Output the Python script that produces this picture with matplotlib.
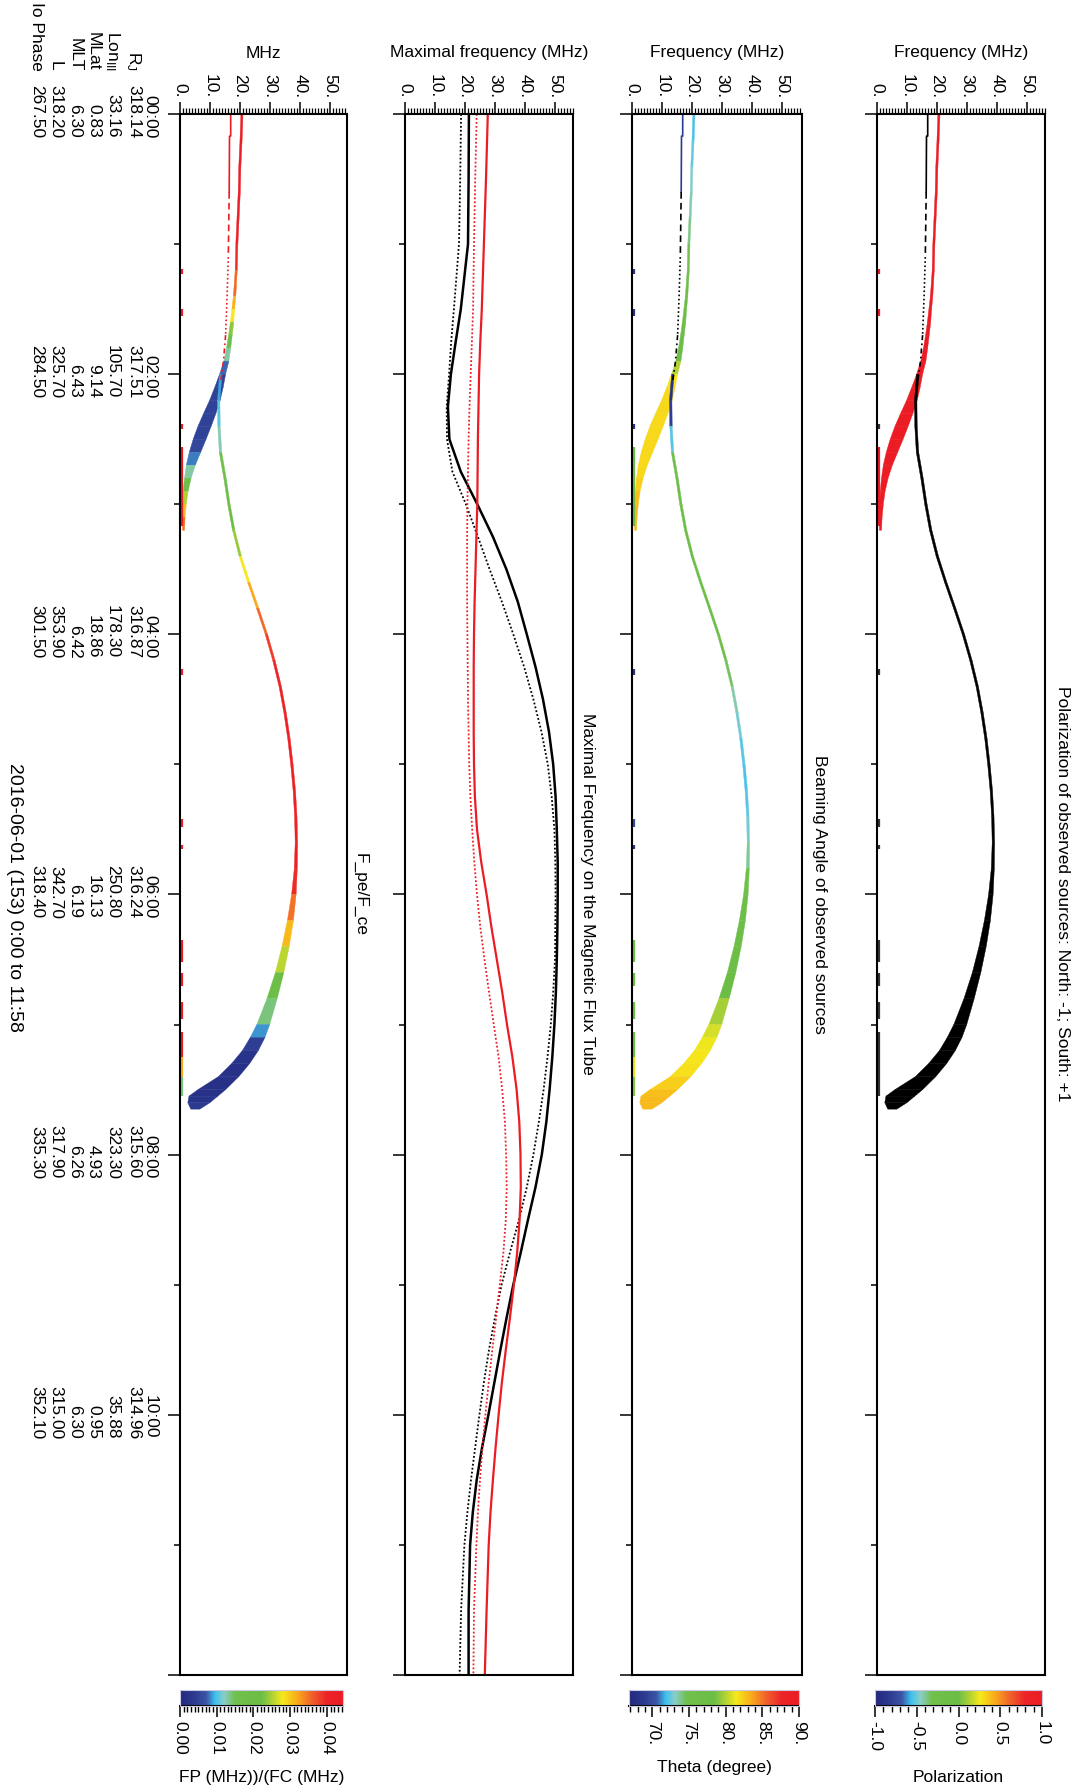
import numpy as np
import matplotlib
matplotlib.use("Agg")
import matplotlib.pyplot as plt
from matplotlib.colors import LinearSegmentedColormap, Normalize
from matplotlib.collections import PolyCollection
from matplotlib.cm import ScalarMappable
import matplotlib.transforms as mtransforms

# ------------------------------------------------------------------ data
# Observed sources, southern branch (time h, freq range MHz, colour values)
t_s = [0.0, 0.2, 0.4, 0.6, 0.8, 1.0, 1.2, 1.4, 1.5, 1.6, 1.7, 1.8, 1.9, 2.0,
       2.1, 2.2, 2.3, 2.4, 2.5, 2.6, 2.7, 2.8, 2.9, 3.0, 3.1, 3.2]
fmin_s = [20.3, 20.0, 19.6, 19.4, 19.0, 18.6, 18.4, 17.8, 17.3, 16.8, 16.2, 15.5, 14.6, 13.2,
          11.6, 9.9, 7.9, 6.0, 4.4, 3.1, 2.1, 1.5, 1.1, 0.9, 0.8, 0.8]
fmax_s = [21.0, 20.7, 20.3, 20.1, 19.7, 19.3, 19.1, 18.6, 18.2, 17.9, 17.4, 16.9, 16.3, 15.2,
          14.4, 13.4, 12.0, 10.4, 8.7, 6.9, 5.1, 3.7, 2.7, 2.1, 1.7, 1.5]
fpfc_s = [0.044, 0.044, 0.044, 0.044, 0.044, 0.041, 0.038, 0.033, 0.030, 0.026, 0.021, 0.016, 0.010, 0.005,
          0.005, 0.005, 0.005, 0.005, 0.005, 0.006, 0.010, 0.016, 0.022, 0.028, 0.033, 0.037]
theta_s = [71.8, 72.2, 72.8, 73.2, 73.6, 74.2, 75.5, 76.5, 77, 77, 77.5, 77.5, 79, 81,
           82, 82, 82, 82, 82, 82, 82, 82, 82.5, 83, 83, 83]
pol_s = [1] * 26

# Observed sources, northern branch
t_n = [2.0, 2.2, 2.4, 2.6, 2.8, 3.0, 3.2, 3.4, 3.6, 3.8, 4.0, 4.2, 4.4, 4.6, 4.8, 5.0, 5.2, 5.4,
       5.6, 5.8, 6.0, 6.2, 6.4, 6.6, 6.8, 7.0, 7.1, 7.2, 7.3, 7.4, 7.5, 7.55, 7.6, 7.65]
fmin_n = [13.2, 12.5, 12.6, 13.1, 14.6, 15.9, 17.5, 19.7, 22.5, 25.5, 28.4, 30.9, 33.0, 34.6, 35.9, 36.9,
          37.7, 38.2, 38.4, 38.1, 37.2, 35.8, 34.0, 31.8, 29.0, 25.6, 23.4, 20.8, 17.2, 12.8, 6.0, 3.0, 2.6, 3.6]
fmax_n = [14.0, 13.3, 13.4, 13.9, 15.4, 16.7, 18.3, 20.5, 23.3, 26.3, 29.2, 31.7, 33.8, 35.4, 36.7, 37.7,
          38.5, 39.0, 39.2, 39.1, 38.7, 37.8, 36.4, 34.6, 32.4, 29.9, 28.3, 26.1, 23.2, 19.6, 15.2, 12.6, 10.0, 6.6]
fpfc_n = [0.008, 0.010, 0.011, 0.014, 0.019, 0.020, 0.022, 0.026, 0.030, 0.034, 0.037, 0.040, 0.042, 0.043,
          0.043, 0.043, 0.043, 0.043, 0.043, 0.042, 0.037, 0.033, 0.029, 0.022, 0.017, 0.011, 0.006, 0.003,
          0.002, 0.002, 0.002, 0.002, 0.003, 0.004]
theta_n = [67.8, 67.8, 70.5, 74, 77, 77, 77, 77, 77, 77, 76, 75, 74, 73, 72.5, 72, 72, 72.5, 73, 74.5,
           76, 77, 77, 77.5, 79, 80.5, 81, 81.5, 81.5, 82, 82.5, 83, 83, 83]
pol_n = [-1] * 34

# Short low-frequency detections
mark_t0 = [1.19, 1.50, 2.38, 2.56, 4.27, 5.42, 5.62, 6.35, 6.60, 6.83, 7.06, 7.25, 7.40]
mark_t1 = [1.23, 1.55, 2.42, 3.17, 4.31, 5.48, 5.65, 6.52, 6.70, 6.96, 7.25, 7.40, 7.55]
mark_f = 0.8
mark_fpfc = [0.044, 0.044, 0.044, 0.044, 0.044, 0.044, 0.044, 0.044, 0.044, 0.044, 0.044, 0.032, 0.014]
mark_theta = [67.8, 67.8, 67.8, 77, 67.8, 70, 67.8, 77, 77, 77, 77, 81, 79]
mark_pol = [1, 1, -1, 1, -1, -1, -1, -1, -1, -1, -1, -1, -1]

# Thin line of the other hemisphere at the start
b_t = [0.0, 0.17, 0.17, 0.6, 1.1, 1.4, 1.7, 1.9, 2.05]
b_f = [16.9, 16.9, 16.5, 16.4, 16.1, 15.7, 15.2, 14.5, 13.6]

# Maximal frequency on the flux tube
mf_t = [0.0, 0.5, 1.0, 1.5, 1.75, 2.0, 2.25, 2.5, 2.75, 3.0, 3.25, 3.5, 3.75, 4.0, 4.25, 4.5,
        4.75, 5.0, 5.25, 5.5, 5.75, 6.0, 6.25, 6.5, 6.75, 7.0, 7.25, 7.5, 7.75, 8.0, 8.25, 8.5,
        8.75, 9.0, 9.25, 9.5, 9.75, 10.0, 10.25, 10.5, 10.75, 11.0, 11.5, 12.0]
mf_black = [21.3, 21.2, 21.0, 18.6, 16.9, 15.3, 14.3, 14.8, 18.6, 24.1, 29.3, 33.8, 37.6, 40.6, 43.5, 46.0,
            48.0, 49.4, 50.2, 50.6, 50.9, 50.9, 50.8, 50.6, 50.3, 49.8, 49.1, 48.2, 47.1, 45.6, 43.5, 41.0,
            38.6, 36.1, 33.9, 31.8, 29.8, 27.8, 25.7, 23.9, 22.6, 21.7, 21.2, 21.2]
mf_black_dot = [18.7, 18.4, 18.0, 16.3, 15.4, 14.7, 13.9, 14.0, 15.8, 20.3, 24.3, 28.2, 32.3, 36.1, 39.7, 42.8,
                45.5, 47.6, 48.9, 49.8, 50.1, 50.2, 50.1, 50.0, 49.4, 48.6, 47.5, 46.2, 44.6, 42.8, 40.6, 38.0,
                35.0, 32.2, 30.0, 28.0, 26.3, 24.8, 23.4, 22.0, 20.8, 19.8, 18.7, 18.2]
mf_red = [27.6, 27.0, 26.3, 25.6, 25.1, 24.7, 24.5, 24.3, 24.2, 24.1, 23.8, 23.5, 23.2, 23.0, 22.9, 22.9,
          22.9, 23.0, 23.3, 24.0, 25.4, 27.2, 28.8, 30.6, 32.4, 34.0, 35.8, 37.2, 38.1, 38.5, 38.6, 38.2,
          37.4, 36.3, 35.0, 33.6, 32.3, 31.2, 30.2, 29.3, 28.5, 27.9, 27.2, 26.6]
mf_red_dot = [23.9, 23.4, 23.0, 22.7, 22.3, 21.9, 21.5, 21.2, 21.0, 20.8, 20.7, 20.7, 20.7, 20.8, 20.9, 21.0,
              21.2, 21.4, 21.8, 22.4, 23.1, 24.0, 25.1, 26.5, 28.0, 29.6, 31.2, 32.4, 33.3, 33.7, 33.9, 33.6,
              32.8, 31.6, 30.4, 29.1, 27.9, 26.8, 25.8, 25.0, 24.3, 23.8, 23.0, 22.8]

# Axes ticks
freq_ticks = [0, 10, 20, 30, 40, 50]
freq_tick_labels = ["0.", "10.", "20.", "30.", "40.", "50."]
time_major = [0, 2, 4, 6, 8, 10, 12]
time_minor = [1, 3, 5, 7, 9, 11]

# Ephemeris
eph_times = [0, 2, 4, 6, 8, 10]
eph_time_labels = ["00:00", "02:00", "04:00", "06:00", "08:00", "10:00"]
eph_rj = ["318.14", "317.51", "316.87", "316.24", "315.60", "314.96"]
eph_lon = ["33.16", "105.70", "178.30", "250.80", "323.30", "35.88"]
eph_mlat = ["0.83", "9.14", "18.86", "16.13", "4.93", "0.95"]
eph_mlt = ["6.30", "6.43", "6.42", "6.19", "6.26", "6.30"]
eph_l = ["318.20", "325.70", "353.90", "342.70", "317.90", "315.00"]
eph_io = ["267.50", "284.50", "301.50", "318.40", "335.30", "352.10"]
eph_row_labels = [r"R$_\mathrm{J}$", r"Lon$_\mathrm{III}$", "MLat", "MLT", "L", "Io Phase"]

# Colorbar ticks
fp_ticks = [0.0, 0.01, 0.02, 0.03, 0.04]
fp_labels = ["0.00", "0.01", "0.02", "0.03", "0.04"]
th_ticks = [70, 75, 80, 85, 90]
th_labels = ["70.", "75.", "80.", "85.", "90."]
pol_ticks = [-1.0, -0.5, 0.0, 0.5, 1.0]
pol_labels = ["-1.0", "-0.5", "0.0", "0.5", "1.0"]

# ------------------------------------------------------------------ style
plt.rcParams['font.family'] = ['Liberation Sans', 'DejaVu Sans']
plt.rcParams['mathtext.fontset'] = 'custom'
plt.rcParams['mathtext.rm'] = 'Liberation Sans'
plt.rcParams['mathtext.it'] = 'Liberation Sans:italic'
plt.rcParams['mathtext.bf'] = 'Liberation Sans:bold'

W, H = 1081, 1792
fig = plt.figure(figsize=(W / 100, H / 100), dpi=100)
fig.patch.set_facecolor('white')

RED = '#ec1c24'
NAVY = '#2c3b92'


def rect(x0, x1, y0, y1):
    return [x0 / W, 1 - y1 / H, (x1 - x0) / W, (y1 - y0) / H]


cmap = LinearSegmentedColormap.from_list('idlrainbow', [
    (0.0, '#23287c'), (0.09, '#2c3b92'), (0.16, '#3b55a5'), (0.215, '#3dc1ef'),
    (0.27, '#8acdc8'), (0.34, '#70c04c'), (0.5, '#6bbd45'), (0.57, '#b4d334'),
    (0.63, '#f6e91b'), (0.72, '#f9aa1b'), (0.81, '#f1602a'), (0.9, '#ec2427'),
    (1.0, '#ec1c24')])
norm_fp = Normalize(0.0, 0.0444)
norm_th = Normalize(66.8, 90.0)
norm_pol = Normalize(-1.0, 1.0)

PT = 0.72  # points per pixel at dpi 100


def setup(ax, xmax):
    ax.set_xlim(0, xmax)
    ax.set_ylim(12, 0)
    ax.xaxis.set_ticks_position('top')
    ax.tick_params(axis='x', which='both', top=True, bottom=False, labeltop=True,
                   labelbottom=False, direction='out')
    ax.tick_params(axis='x', which='major', length=12 * PT, width=1.1, pad=3)
    ax.tick_params(axis='x', which='minor', length=6 * PT, width=0.9)
    ax.set_xticks(freq_ticks, labels=freq_tick_labels, rotation=270, rotation_mode='anchor',
                  ha='right', va='center', fontsize=12.5)
    ax.set_xticks(np.arange(0, int(xmax) + 1, 1), minor=True)
    ax.tick_params(axis='y', which='both', left=True, right=False, labelleft=False,
                   direction='out')
    ax.tick_params(axis='y', which='major', length=12 * PT, width=1.1)
    ax.tick_params(axis='y', which='minor', length=6 * PT, width=1.1)
    ax.set_yticks(time_major)
    ax.set_yticks(time_minor, minor=True)
    for s in ax.spines.values():
        s.set_linewidth(1.5)


def band(ax, t, fmin, fmax, colors):
    verts = []
    for i in range(len(t) - 1):
        verts.append([(fmin[i], t[i]), (fmax[i], t[i]), (fmax[i + 1], t[i + 1]), (fmin[i + 1], t[i + 1])])
    pc = PolyCollection(verts, facecolors=colors, edgecolors=colors, linewidths=0.3)
    ax.add_collection(pc)


def seg_colors(vals, norm):
    return [cmap(norm(0.5 * (vals[i] + vals[i + 1]))) for i in range(len(vals) - 1)]


def pol_colors(vals):
    return [RED if v > 0 else 'black' for v in vals[:-1]]


def b_line(ax, colors):
    pieces = [(0, 4, '-'), (3, 5, (0, (4, 2.5))), (4, 7, (0, (1, 1.5))), (6, 9, (0, (3, 2, 1, 2)))]
    for (i0, i1, ls), c in zip(pieces, colors):
        ax.plot(b_f[i0:i1], b_t[i0:i1], color=c, lw=1.2, ls=ls)


# ------------------------------------------------------------------ panels
ax1 = fig.add_axes(rect(180, 347, 114, 1675))
ax2 = fig.add_axes(rect(405, 573, 114, 1675))
ax3 = fig.add_axes(rect(632, 802, 114, 1675))
ax4 = fig.add_axes(rect(877, 1045, 114, 1675))
setup(ax1, 167 / 3.0)
setup(ax2, 168 / 3.0)
setup(ax3, 170 / 3.0)
setup(ax4, 168 / 3.0)

# Panel 1 : FP/FC colour
band(ax1, t_s, fmin_s, fmax_s, seg_colors(fpfc_s, norm_fp))
band(ax1, t_n, fmin_n, fmax_n, seg_colors(fpfc_n, norm_fp))
b_line(ax1, [RED, RED, RED, RED])
ax1.vlines([mark_f] * len(mark_t0), mark_t0, mark_t1,
           colors=[cmap(norm_fp(v)) for v in mark_fpfc], lw=1.6)

# Panel 2 : maximal frequency
ax2.plot(mf_black_dot, mf_t, color='black', lw=1.3, ls=(0, (1, 1.2)))
ax2.plot(mf_black, mf_t, color='black', lw=1.8)
ax2.plot(mf_red_dot, mf_t, color=RED, lw=1.3, ls=(0, (1, 1.2)))
ax2.plot(mf_red, mf_t, color=RED, lw=1.6)

# Panel 3 : beaming angle
band(ax3, t_s, fmin_s, fmax_s, seg_colors(theta_s, norm_th))
band(ax3, t_n, fmin_n, fmax_n, seg_colors(theta_n, norm_th))
b_line(ax3, [NAVY, 'black', 'black', 'black'])
ax3.vlines([mark_f] * len(mark_t0), mark_t0, mark_t1,
           colors=[cmap(norm_th(v)) for v in mark_theta], lw=1.6)

# Panel 4 : polarization
band(ax4, t_s, fmin_s, fmax_s, pol_colors(pol_s))
band(ax4, t_n, fmin_n, fmax_n, pol_colors(pol_n))
b_line(ax4, ['black', 'black', 'black', 'black'])
ax4.vlines([mark_f] * len(mark_t0), mark_t0, mark_t1,
           colors=[RED if v > 0 else '#333333' for v in mark_pol], lw=1.6)

# Axis labels (above each panel)
for xc, lab in [(263.5, "MHz"), (489, "Maximal frequency (MHz)"),
                (717, "Frequency (MHz)"), (961, "Frequency (MHz)")]:
    fig.text(xc / W, 1 - 53 / H, lab, ha='center', va='center', fontsize=12.5)

# Panel titles (right of each panel)
for xc, lab in [(360, "F_pe/F_ce"), (588, "Maximal Frequency on the Magnetic Flux Tube"),
                (819, "Beaming Angle of observed sources"),
                (1062, "Polarization of observed sources: North: -1; South: +1")]:
    fig.text(xc / W, 1 - 894 / H, lab, rotation=270, ha='center', va='center', fontsize=12.5)

# Ephemeris
trans_eph = mtransforms.blended_transform_factory(fig.transFigure, ax1.transData) + \
    mtransforms.ScaledTranslation(0, -24 / 100, fig.dpi_scale_trans)
cols_x = [150, 133.5, 112.5, 93.5, 75, 55.5, 36.5]
for xc, vals in zip(cols_x, [eph_time_labels, eph_rj, eph_lon, eph_mlat, eph_mlt, eph_l, eph_io]):
    for t, v in zip(eph_times, vals):
        fig.text(xc / W, t, v, transform=trans_eph, rotation=270, rotation_mode='anchor',
                 ha='right', va='center', fontsize=12.5)
for xc, lab in zip(cols_x[1:], eph_row_labels):
    fig.text(xc / W, 1 - 71 / H, lab, rotation=270, rotation_mode='anchor',
             ha='right', va='center', fontsize=12.5)

fig.text(14 / W, 1 - 897 / H, "2016-06-01 (153) 0:00 to 11:58", rotation=270,
         ha='center', va='center', fontsize=14)


# ------------------------------------------------------------------ colorbars
def cbar(x0, x1, norm, ticks, labels, minor, label, label_y):
    cax = fig.add_axes(rect(x0, x1, 1690, 1706))
    cb = fig.colorbar(ScalarMappable(norm=norm, cmap=cmap), cax=cax, orientation='horizontal')
    cb.outline.set_edgecolor('#c9c9df')
    cb.outline.set_linewidth(0.8)
    cax.tick_params(axis='x', which='both', direction='out', bottom=True, top=False)
    cax.tick_params(axis='x', which='major', length=11 * PT, width=1.1, pad=3)
    cax.tick_params(axis='x', which='minor', length=5.5 * PT, width=1.0)
    cb.set_ticks(ticks, labels=labels, rotation=270, rotation_mode='anchor',
                 ha='left', va='center', fontsize=12.5)
    cax.xaxis.set_ticks(minor, minor=True)
    cax.plot([0, 1], [0, 0], transform=cax.transAxes, color='black', lw=1.5, clip_on=False)
    fig.text((x0 + x1) / 2 / W, 1 - label_y / H, label, ha='center', va='center', fontsize=12.5)


cbar(180, 343, norm_fp, fp_ticks, fp_labels, np.arange(0, 0.0445, 0.001),
     "FP (MHz))/(FC (MHz)", 1777)
cbar(629, 799, norm_th, th_ticks, th_labels, np.arange(67, 90.5, 1.0),
     "Theta (degree)", 1767)
cbar(875, 1042, norm_pol, pol_ticks, pol_labels, np.arange(-1.0, 1.05, 0.1),
     "Polarization", 1777)

fig.savefig("out.png", dpi=100, facecolor='white')
